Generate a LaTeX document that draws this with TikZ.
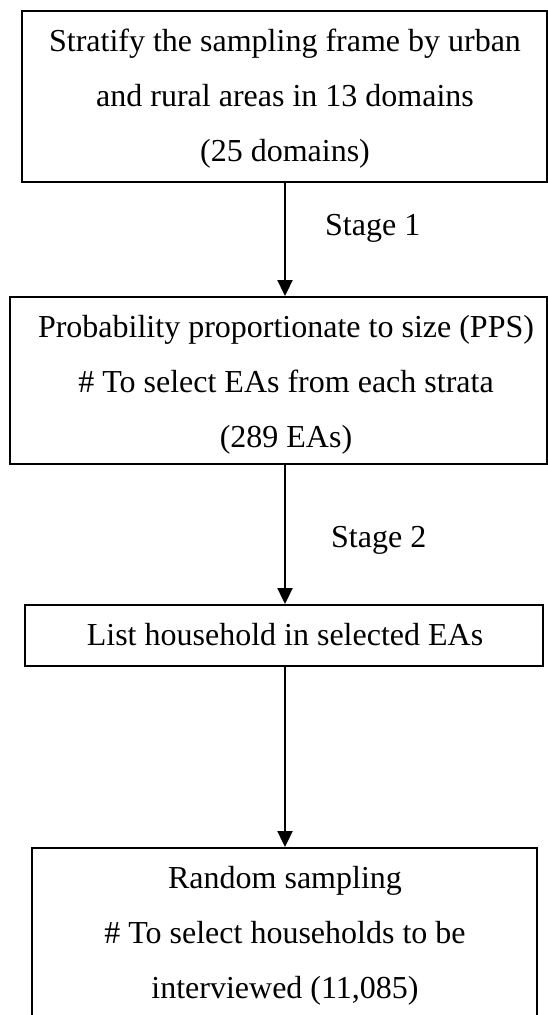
\documentclass[tikz,border=0pt]{standalone}
\usepackage{fontspec}
\setmainfont{Liberation Serif}
\usetikzlibrary{arrows.meta}
\begin{document}
\begin{tikzpicture}[x=1pt,y=-1pt,
  box/.style={draw=black, line width=2pt, inner sep=0pt, fill=none},
  txt/.style={font=\fontsize{32}{38}\selectfont, anchor=base, inner sep=0pt},
  stagelbl/.style={font=\fontsize{32}{38}\selectfont, anchor=base west, inner sep=0pt},
  flow/.style={draw=black, line width=2.3pt, -{Triangle[length=16pt,width=15pt]}}
  ]
\useasboundingbox (0,0) rectangle (548,1015);
\clip (0,0) rectangle (548,1015);
\fill[white] (0,0) rectangle (548,1015);

% boxes
\node[box, minimum width=525pt, minimum height=171pt] (b1) at (284.5,96.5) {};
\node[box, minimum width=537pt, minimum height=167pt] (b2) at (278.5,380.5) {};
\node[box, minimum width=518pt, minimum height=61pt]  (b3) at (284,635.5) {};
\node[box, minimum width=505pt, minimum height=175pt] (b4) at (284.5,935.5) {};

% texts
\node[txt] (t11) at (285,51)  {Stratify the sampling frame by urban};
\node[txt] (t12) at (285,106) {and rural areas in 13 domains};
\node[txt] (t13) at (285,161) {(25 domains)};

\node[txt] (t21) at (286,337) {Probability proportionate to size (PPS)};
\node[txt] (t22) at (286,392) {\# To select EAs from each strata};
\node[txt] (t23) at (286,447) {(289 EAs)};

\node[txt] (t31) at (285,645) {List household in selected EAs};

\node[txt] (t41) at (285,888) {Random sampling};
\node[txt] (t42) at (285,943) {\# To select households to be};
\node[txt] (t43) at (285,998) {interviewed (11,085)};

% connectors
\coordinate (ax) at (285,0);
\draw[flow] (b1.south -| ax) -- (b2.north -| ax);
\draw[flow] (b2.south -| ax) -- (b3.north -| ax);
\draw[flow] (b3.south -| ax) -- (b4.north -| ax);

% stage labels
\node[stagelbl] (s1) at (325,235) {Stage 1};
\node[stagelbl] (s2) at (331,547) {Stage 2};
\end{tikzpicture}
\end{document}
